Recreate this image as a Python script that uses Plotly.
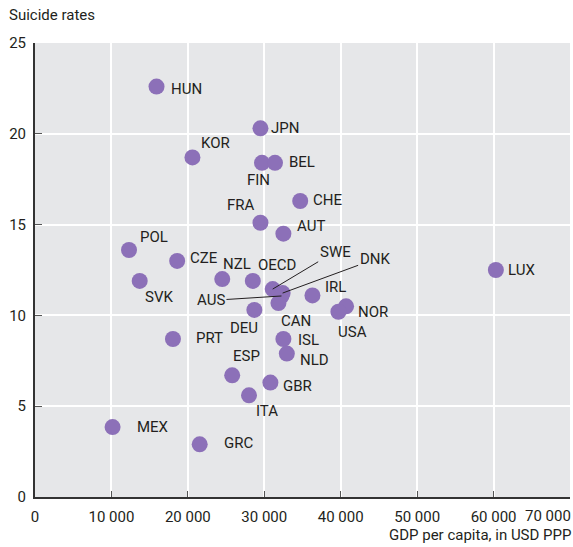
import plotly.graph_objects as go

# ---- data ----
countries = ["HUN", "JPN", "KOR", "FIN", "BEL", "CHE", "FRA", "AUT", "POL", "CZE",
             "NZL", "OECD", "SVK", "LUX", "SWE", "DNK", "AUS", "CAN", "IRL", "NOR",
             "USA", "DEU", "PRT", "ISL", "NLD", "ESP", "GBR", "ITA", "MEX", "GRC"]
gdp_per_capita = [15900, 29500, 20600, 29700, 31400, 34700, 29500, 32500, 12300, 18600,
                  24500, 28500, 13700, 60300, 31100, 32400, 32250, 31850, 36300, 40700,
                  39700, 28700, 18050, 32500, 32950, 25800, 30800, 28000, 10150, 21550]
suicide_rates = [22.6, 20.3, 18.7, 18.4, 18.4, 16.3, 15.1, 14.5, 13.6, 13.0,
                 12.0, 11.9, 11.9, 12.5, 11.45, 11.23, 11.07, 10.68, 11.1, 10.5,
                 10.2, 10.3, 8.7, 8.7, 7.9, 6.7, 6.3, 5.6, 3.85, 2.9]
x_tick_values = [0, 10000, 20000, 30000, 40000, 50000, 60000, 70000]
x_tick_labels = ["0", "10 000", "20 000", "30 000", "40 000", "50 000", "60 000", "70 000"]
y_tick_values = [0, 5, 10, 15, 20, 25]
x_title = "GDP per capita, in USD PPP"
y_title = "Suicide rates"

# ---- label placement (pixel offsets from marker: anchor, dx, dy(screen-down)) ----
label_pos = {
    "HUN": ("left", 12, 2), "JPN": ("left", 9, -0.5), "KOR": ("center", 23, -14.5),
    "FIN": ("center", -3, 17.5), "BEL": ("left", 12, -0.5), "CHE": ("left", 11, -1),
    "FRA": ("center", -19, -17.5), "AUT": ("left", 12, -8), "POL": ("center", 25, -13.5),
    "CZE": ("left", 11, -3), "NZL": ("center", 14.5, -15.5), "OECD": ("center", 24.5, -16),
    "SVK": ("center", 19, 16), "LUX": ("left", 10.5, 0), "IRL": ("left", 10.5, -8),
    "NOR": ("left", 10, 5.5), "USA": ("center", 14.5, 20), "DEU": ("center", -10.5, 18.5),
    "CAN": ("center", 18, 18), "PRT": ("left", 21.5, -1.5), "ISL": ("left", 12.5, 0.5),
    "NLD": ("left", 11.5, 6), "ESP": ("center", 14.5, -19), "GBR": ("left", 10.5, 3.5),
    "ITA": ("center", 17.5, 16), "MEX": ("left", 22.5, -0.5), "GRC": ("left", 22.5, -1.5),
}
leader_pos = {"SWE": (62.5, -37.5), "DNK": (92.5, -34), "AUS": (-70.5, 4.5)}

FONT = "Roboto, Liberation Sans, sans-serif"
FS = 15
TXT = "#231f20"

fig = go.Figure()
fig.add_trace(go.Scatter(
    x=gdp_per_capita, y=suicide_rates, mode="markers",
    marker=dict(size=16, color="#8c70b8", line=dict(width=0)),
    hoverinfo="skip", showlegend=False,
))

annotations = []
for c, gx, gy in zip(countries, gdp_per_capita, suicide_rates):
    if c in leader_pos:
        ax, ay = leader_pos[c]
        annotations.append(dict(
            x=gx, y=gy, xref="x", yref="y", text=c, showarrow=True,
            arrowhead=0, arrowwidth=1, arrowcolor="#231f20", standoff=0,
            ax=ax, ay=ay, font=dict(family=FONT, size=FS, color=TXT),
        ))
    else:
        anchor, dx, dy = label_pos[c]
        annotations.append(dict(
            x=gx, y=gy, xref="x", yref="y", text=c, showarrow=False,
            xanchor=anchor, yanchor="middle", xshift=dx, yshift=-dy,
            font=dict(family=FONT, size=FS, color=TXT),
        ))

# last x tick label, right-aligned to stay inside the figure
annotations.append(dict(
    x=1.0, y=0, xref="paper", yref="paper", text=x_tick_labels[-1],
    showarrow=False, xanchor="right", yanchor="middle", yshift=-19, xshift=2,
    borderpad=0, font=dict(family=FONT, size=FS, color=TXT),
))
annotations.append(dict(
    x=1.0, y=0, xref="paper", yref="paper", text=x_title,
    showarrow=False, xanchor="right", yanchor="middle", yshift=-38, xshift=2,
    borderpad=0, font=dict(family=FONT, size=FS, color=TXT),
))
annotations.append(dict(
    x=0, y=1, xref="paper", yref="paper", text=y_title,
    showarrow=False, xanchor="left", yanchor="middle", xshift=-28, yshift=28,
    font=dict(family=FONT, size=FS, color=TXT),
))

fig.update_layout(
    width=573, height=547,
    margin=dict(l=35, r=3, t=43, b=50),
    paper_bgcolor="white", plot_bgcolor="#e6e7e9",
    font=dict(family=FONT, size=FS, color=TXT),
    annotations=annotations,
    xaxis=dict(
        range=[0, 70000], tickvals=x_tick_values,
        ticktext=x_tick_labels[:-1] + [""],
        showgrid=True, gridcolor="white", gridwidth=1.5,
        showline=True, linecolor="#333333", linewidth=2,
        ticks="inside", ticklen=6, tickcolor="#555555", tickwidth=1,
        zeroline=False, ticklabelstandoff=5,
        tickfont=dict(family=FONT, size=FS, color=TXT),
    ),
    yaxis=dict(
        range=[0, 25], tickvals=y_tick_values,
        showgrid=True, gridcolor="white", gridwidth=1.5,
        showline=True, linecolor="#333333", linewidth=2,
        ticks="inside", ticklen=7, tickcolor="#555555", tickwidth=1,
        zeroline=False, ticklabelstandoff=4,
        tickfont=dict(family=FONT, size=FS, color=TXT),
    ),
)

fig.write_html("out.html", config={"displayModeBar": False},
               post_script="document.body.style.margin='0px';")
